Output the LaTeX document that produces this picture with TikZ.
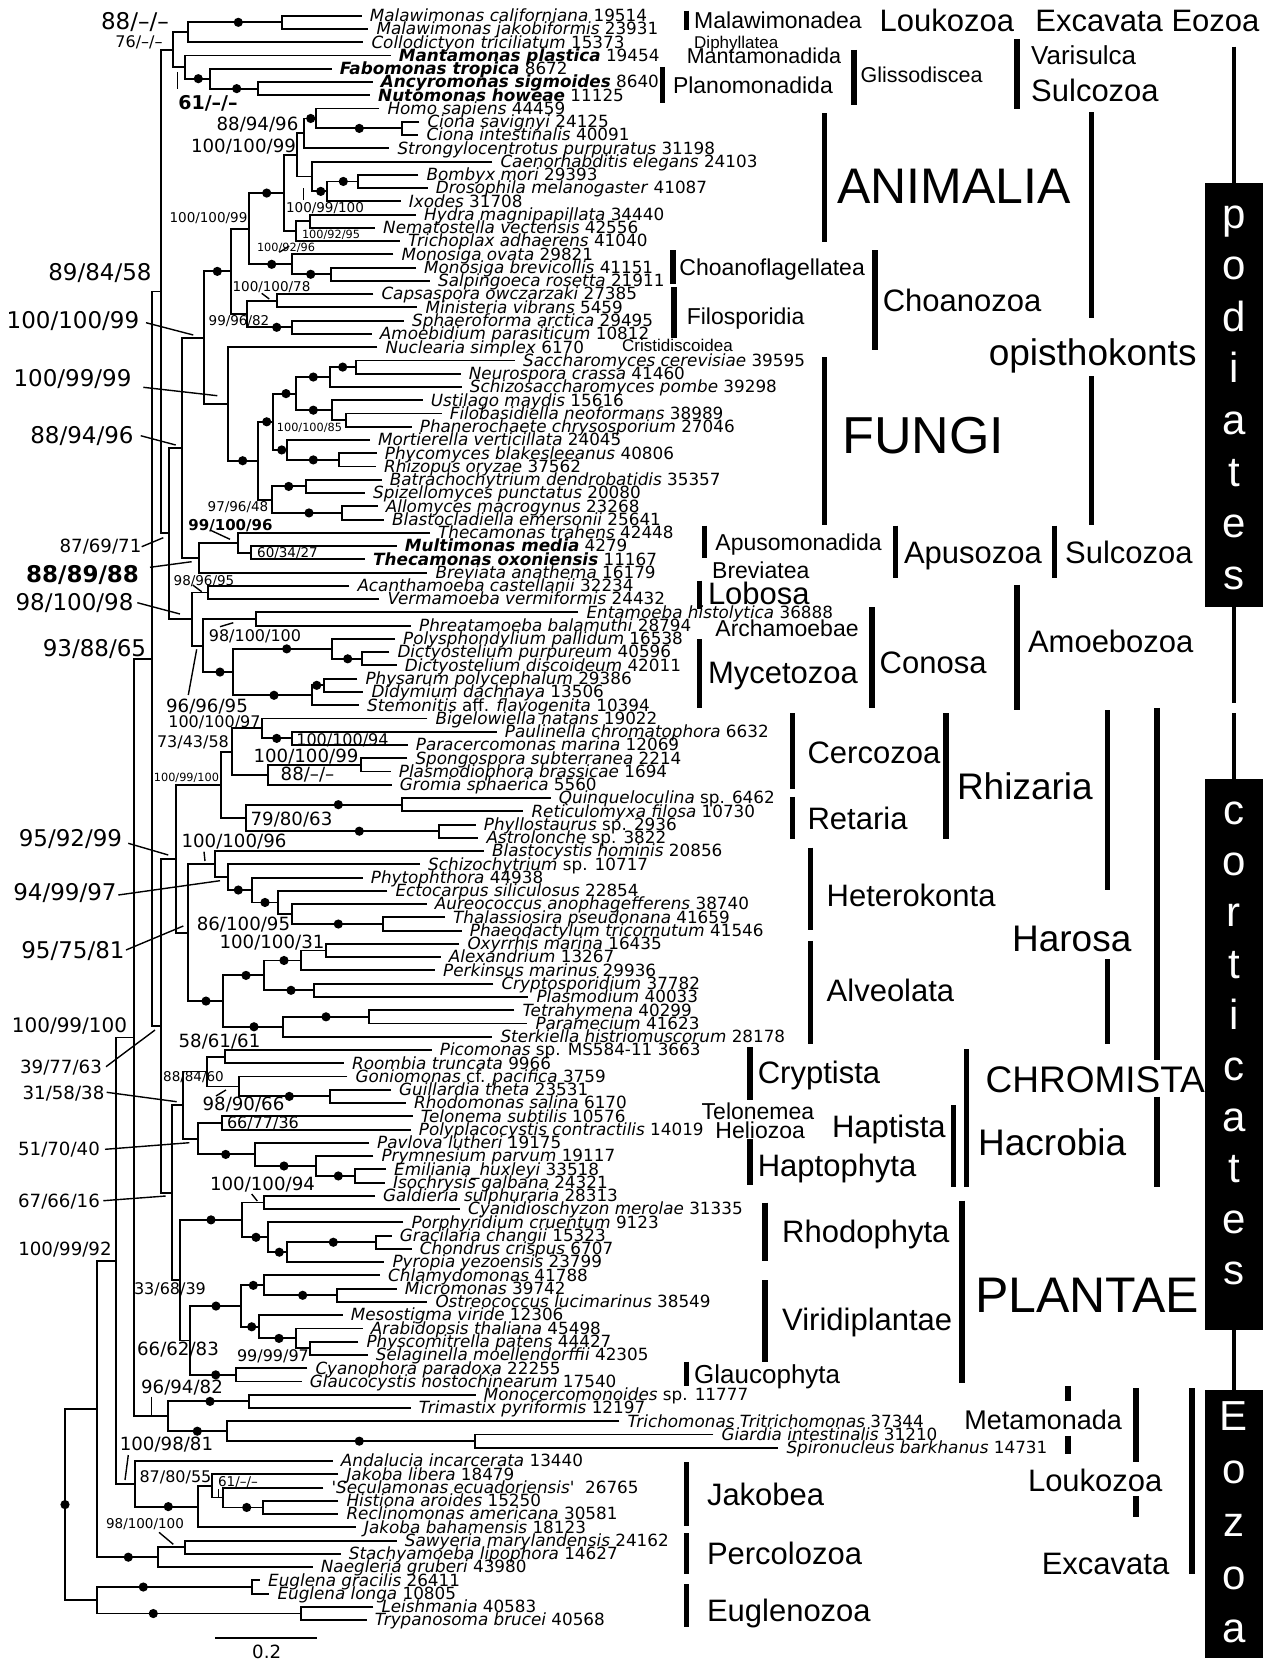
\documentclass[tikz,border=0pt]{standalone}
\usepackage{fontspec}
\newfontfamily\djv{DejaVu Sans}
\newfontfamily\libs{Liberation Sans}
\usetikzlibrary{calc}
\newcommand\spn[1]{\textit{#1}}
\newcommand\TTip[4]{\coordinate (#1) at (#3,{15.7+(#2-1)*13.26}); \node[tiplab] at ([shift={(8pt,-5.8pt)}]#1) {#4};}
\newcommand\NNd[4]{\coordinate (tmp) at ($(#3)!.5!(#4)$); \coordinate (#1) at (#2,0 |- tmp); \draw[br] (#3) -| (#1) |- (#4);}
\newcommand\DDt[2]{\fill (#2,0 |- #1) circle[radius=4.6pt];}
\newcommand\BSup[4]{\node[#3] at (#1,#2) {#4};}
\newcommand\AAnn[4]{\node[anchor=base west,inner sep=0] at (#1,{#2+0.36*#3}) {\libs\fontsize{#3}{#3}\selectfont #4};}
\newcommand\BBar[3]{\draw[cbar] (#1,#2) -- (#1,#3);}
\tikzset{
  br/.style={line width=1.9pt},
  ptr/.style={line width=1.4pt},
  cbar/.style={line width=5.5pt},
  col/.style={line width=4pt},
  tiplab/.style={anchor=base west,inner sep=0,font=\djv\fontsize{16.8}{17}\selectfont},
  sS/.style={inner sep=0,font=\djv\fontsize{11.3}{12}\selectfont},
  sT/.style={inner sep=0,font=\djv\fontsize{13.5}{14}\selectfont},
  sM/.style={inner sep=0,font=\djv\fontsize{16}{17}\selectfont},
  sMb/.style={inner sep=0,font=\djv\bfseries\fontsize{15}{16}\selectfont},
  sL/.style={inner sep=0,font=\djv\fontsize{18.2}{19}\selectfont},
  sLL/.style={inner sep=0,font=\djv\fontsize{20}{21}\selectfont},
  sLb/.style={inner sep=0,font=\djv\bfseries\fontsize{19}{20}\selectfont},
  sX/.style={inner sep=0,font=\djv\fontsize{23}{24}\selectfont},
  sXb/.style={inner sep=0,font=\djv\bfseries\fontsize{23}{24}\selectfont},
  boxl/.style={anchor=base,inner sep=0,text=white,font=\libs\fontsize{42}{42}\selectfont}
}
\begin{document}
\begin{tikzpicture}[x=1pt,y=-1pt]
\useasboundingbox (0,0) rectangle (1263,1662);
\fill[white] (0,0) rectangle (1263,1662);
% ---------- tips ----------
\TTip{t1}{1}{361.7}{\spn{Malawimonas californiana} 19514}
\TTip{t2}{2}{368.3}{\spn{Malawimonas jakobiformis} 23931}
\TTip{t3}{3}{363.3}{\spn{Collodictyon triciliatum} 15373}
\TTip{t4}{4}{390.7}{\textbf{\spn{Mantamonas plastica}} 19454}
\TTip{t5}{5}{331.7}{\textbf{\spn{Fabomonas tropica}} 8672}
\TTip{t6}{6}{372.7}{\textbf{\spn{Ancyromonas sigmoides}} 8640}
\TTip{t7}{7}{370}{\textbf{\spn{Nutomonas howeae}} 11125}
\TTip{t8}{8}{379.3}{\spn{Homo sapiens} 44459}
\TTip{t9}{9}{419.3}{\spn{Ciona savignyi} 24125}
\TTip{t10}{10}{418.3}{\spn{Ciona intestinalis} 40091}
\TTip{t11}{11}{389.3}{\spn{Strongylocentrotus purpuratus} 31198}
\TTip{t12}{12}{492.3}{\spn{Caenorhabditis elegans} 24103}
\TTip{t13}{13}{418.3}{\spn{Bombyx mori} 29393}
\TTip{t14}{14}{427.7}{\spn{Drosophila melanogaster} 41087}
\TTip{t15}{15}{400.7}{\spn{Ixodes} 31708}
\TTip{t16}{16}{416}{\spn{Hydra magnipapillata} 34440}
\TTip{t17}{17}{375}{\spn{Nematostella vectensis} 42556}
\TTip{t18}{18}{400}{\spn{Trichoplax adhaerens} 41040}
\TTip{t19}{19}{393.3}{\spn{Monosiga ovata} 29821}
\TTip{t20}{20}{416}{\spn{Monosiga brevicollis} 41151}
\TTip{t21}{21}{430}{\spn{Salpingoeca rosetta} 21911}
\TTip{t22}{22}{373.3}{\spn{Capsaspora owczarzaki} 27385}
\TTip{t23}{23}{417.3}{\spn{Ministeria vibrans} 5459}
\TTip{t24}{24}{404}{\spn{Sphaeroforma arctica} 29495}
\TTip{t25}{25}{371.7}{\spn{Amoebidium parasiticum} 10812}
\TTip{t26}{26}{377.3}{\spn{Nuclearia simplex} 6170}
\TTip{t27}{27}{515}{\spn{Saccharomyces cerevisiae} 39595}
\TTip{t28}{28}{460.7}{\spn{Neurospora crassa} 41460}
\TTip{t29}{29}{461.7}{\spn{Schizosaccharomyces pombe} 39298}
\TTip{t30}{30}{422.7}{\spn{Ustilago maydis} 15616}
\TTip{t31}{31}{441.7}{\spn{Filobasidiella neoformans} 38989}
\TTip{t32}{32}{411.7}{\spn{Phanerochaete chrysosporium} 27046}
\TTip{t33}{33}{370}{\spn{Mortierella verticillata} 24045}
\TTip{t34}{34}{376.7}{\spn{Phycomyces blakesleeanus} 40806}
\TTip{t35}{35}{376}{\spn{Rhizopus oryzae} 37562}
\TTip{t36}{36}{381.7}{\spn{Batrachochytrium dendrobatidis} 35357}
\TTip{t37}{37}{365}{\spn{Spizellomyces punctatus} 20080}
\TTip{t38}{38}{377.7}{\spn{Allomyces macrogynus} 23268}
\TTip{t39}{39}{384}{\spn{Blastocladiella emersonii} 25641}
\TTip{t40}{40}{430}{\spn{Thecamonas trahens} 42448}
\TTip{t41}{41}{396.7}{\textbf{\spn{Multimonas media}} 4279}
\TTip{t42}{42}{365}{\textbf{\spn{Thecamonas oxoniensis}} 11167}
\TTip{t43}{43}{427.3}{\spn{Breviata anathema} 16179}
\TTip{t44}{44}{349.3}{\spn{Acanthamoeba castellanii} 32234}
\TTip{t45}{45}{379.3}{\spn{Vermamoeba vermiformis} 24432}
\TTip{t46}{46}{578.3}{\spn{Entamoeba histolytica} 36888}
\TTip{t47}{47}{411}{\spn{Phreatamoeba balamuthi} 28794}
\TTip{t48}{48}{395}{\spn{Polysphondylium pallidum} 16538}
\TTip{t49}{49}{389.3}{\spn{Dictyostelium purpureum} 40596}
\TTip{t50}{50}{396.7}{\spn{Dictyostelium discoideum} 42011}
\TTip{t51}{51}{357.3}{\spn{Physarum polycephalum} 29386}
\TTip{t52}{52}{363.3}{\spn{Didymium dachnaya} 13506}
\TTip{t53}{53}{359}{\spn{Stemonitis} aff. \spn{flavogenita} 10394}
\TTip{t54}{54}{427.3}{\spn{Bigelowiella natans} 19022}
\TTip{t55}{55}{496.7}{\spn{Paulinella chromatophora} 6632}
\TTip{t56}{56}{407.7}{\spn{Paracercomonas marina} 12069}
\TTip{t57}{57}{407.3}{\spn{Spongospora subterranea} 2214}
\TTip{t58}{58}{390.7}{\spn{Plasmodiophora brassicae} 1694}
\TTip{t59}{59}{391.7}{\spn{Gromia sphaerica} 5560}
\TTip{t60}{60}{550.7}{\spn{Quinqueloculina} sp. 6462}
\TTip{t61}{61}{523.3}{\spn{Reticulomyxa filosa} 10730}
\TTip{t62}{62}{475.7}{\spn{Phyllostaurus} sp. 2936}
\TTip{t63}{63}{478.3}{\spn{Astrolonche} sp. 3822}
\TTip{t64}{64}{484}{\spn{Blastocystis hominis} 20856}
\TTip{t65}{65}{420}{\spn{Schizochytrium} sp. 10717}
\TTip{t66}{66}{362.7}{\spn{Phytophthora} 44938}
\TTip{t67}{67}{387.3}{\spn{Ectocarpus siliculosus} 22854}
\TTip{t68}{68}{426.7}{\spn{Aureococcus anophagefferens} 38740}
\TTip{t69}{69}{445}{\spn{Thalassiosira pseudonana} 41659}
\TTip{t70}{70}{461.7}{\spn{Phaeodactylum tricornutum} 41546}
\TTip{t71}{71}{459.3}{\spn{Oxyrrhis marina} 16435}
\TTip{t72}{72}{440.7}{\spn{Alexandrium} 13267}
\TTip{t73}{73}{435}{\spn{Perkinsus marinus} 29936}
\TTip{t74}{74}{493.3}{\spn{Cryptosporidium} 37782}
\TTip{t75}{75}{528.3}{\spn{Plasmodium} 40033}
\TTip{t76}{76}{514.3}{\spn{Tetrahymena} 40299}
\TTip{t77}{77}{527.3}{\spn{Paramecium} 41623}
\TTip{t78}{78}{492.3}{\spn{Sterkiella histriomuscorum} 28178}
\TTip{t79}{79}{431.7}{\spn{Picomonas} sp. MS584-11 3663}
\TTip{t80}{80}{344}{\spn{Roombia truncata} 9966}
\TTip{t81}{81}{347.3}{\spn{Goniomonas} cf. \spn{pacifica} 3759}
\TTip{t82}{82}{391}{\spn{Guillardia theta} 23531}
\TTip{t83}{83}{406}{\spn{Rhodomonas salina} 6170}
\TTip{t84}{84}{412.7}{\spn{Telonema subtilis} 10576}
\TTip{t85}{85}{410.7}{\spn{Polyplacocystis contractilis} 14019}
\TTip{t86}{86}{369}{\spn{Pavlova lutheri} 19175}
\TTip{t87}{87}{373.3}{\spn{Prymnesium parvum} 19117}
\TTip{t88}{88}{386}{\spn{Emiliania\_huxleyi} 33518}
\TTip{t89}{89}{385}{\spn{Isochrysis galbana} 24321}
\TTip{t90}{90}{375}{\spn{Galdieria sulphuraria} 28313}
\TTip{t91}{91}{460}{\spn{Cyanidioschyzon merolae} 31335}
\TTip{t92}{92}{403.3}{\spn{Porphyridium cruentum} 9123}
\TTip{t93}{93}{391.7}{\spn{Gracilaria changii} 15323}
\TTip{t94}{94}{411.7}{\spn{Chondrus crispus} 6707}
\TTip{t95}{95}{384.3}{\spn{Pyropia yezoensis} 23799}
\TTip{t96}{96}{380}{\spn{Chlamydomonas} 41788}
\TTip{t97}{97}{396.7}{\spn{Micromonas} 39742}
\TTip{t98}{98}{427.3}{\spn{Ostreococcus lucimarinus} 38549}
\TTip{t99}{99}{342.7}{\spn{Mesostigma viride} 12306}
\TTip{t100}{100}{362.7}{\spn{Arabidopsis thaliana} 45498}
\TTip{t101}{101}{358.3}{\spn{Physcomitrella patens} 44427}
\TTip{t102}{102}{367.7}{\spn{Selaginella moellendorffii} 42305}
\TTip{t103}{103}{307.3}{\spn{Cyanophora paradoxa} 22255}
\TTip{t104}{104}{301.7}{\spn{Glaucocystis nostochinearum} 17540}
\TTip{t105}{105}{475.7}{\spn{Monocercomonoides} sp. 11777}
\TTip{t106}{106}{410.7}{\spn{Trimastix pyriformis} 12197}
\TTip{t107}{107}{619.3}{\spn{Trichomonas Tritrichomonas} 37344}
\TTip{t108}{108}{713.3}{\spn{Giardia intestinalis} 31210}
\TTip{t109}{109}{778.3}{\spn{Spironucleus barkhanus} 14731}
\TTip{t110}{110}{332.7}{\spn{Andalucia incarcerata} 13440}
\TTip{t111}{111}{338.3}{\spn{Jakoba libera} 18479}
\TTip{t112}{112}{323.3}{\spn{\textquotesingle Seculamonas ecuadoriensis\textquotesingle}\ \ 26765}
\TTip{t113}{113}{338.3}{\spn{Histiona aroides} 15250}
\TTip{t114}{114}{338.3}{\spn{Reclinomonas americana} 30581}
\TTip{t115}{115}{356}{\spn{Jakoba bahamensis} 18123}
\TTip{t116}{116}{396.7}{\spn{Sawyeria marylandensis} 24162}
\TTip{t117}{117}{340.7}{\spn{Stachyamoeba lipophora} 14627}
\TTip{t118}{118}{312.7}{\spn{Naegleria gruberi} 43980}
\TTip{t119}{119}{260}{\spn{Euglena gracilis} 26411}
\TTip{t120}{120}{269.3}{\spn{Euglena longa} 10805}
\TTip{t121}{121}{373.3}{\spn{Leishmania} 40583}
\TTip{t122}{122}{366.7}{\spn{Trypanosoma brucei} 40568}
% ---------- internal nodes ----------
\NNd{nmal}{281.7}{t1}{t2} \DDt{nmal}{238.3}
\NNd{nA}{187.7}{nmal}{t3}
\NNd{nant}{257.7}{t6}{t7} \DDt{nant}{236.7}
\NNd{nplano}{210}{t5}{nant} \DDt{nplano}{198.3}
\NNd{nB}{185}{t4}{nplano}
\NNd{nAB}{172.7}{nA}{nB}
% animals
\NNd{ncio}{401.7}{t9}{t10} \DDt{ncio}{359.3}
\NNd{nhc}{316}{t8}{ncio} \DDt{nhc}{310.7}
\NNd{ndeut}{304}{nhc}{t11}
\NNd{nbd}{357.7}{t13}{t14} \DDt{nbd}{343.3}
\NNd{narth}{326.7}{nbd}{t15} \DDt{narth}{320.7}
\NNd{nprot}{311.7}{t12}{narth}
\NNd{nbil}{296.7}{ndeut}{nprot}
\NNd{ncni}{310}{t16}{t17}
\NNd{nnt}{296}{ncni}{t18}
\NNd{nK}{284}{nbil}{nnt} \DDt{nK}{266.7}
\NNd{nmsal}{331}{t20}{t21} \DDt{nmsal}{310.7}
\NNd{nL}{291.7}{t19}{nmsal} \DDt{nL}{271.7}
\NNd{nI}{249.3}{nK}{nL}
\NNd{ncm}{276.7}{t22}{t23}
\NNd{nsa}{292}{t24}{t25} \DDt{nsa}{276.7}
\NNd{nJ}{247.3}{ncm}{nsa}
\NNd{nH}{231}{nI}{nJ} \DDt{nH}{217.3}
% fungi
\NNd{nsn}{356}{t27}{t28} \DDt{nsn}{342.7}
\NNd{nasco}{330}{nsn}{t29} \DDt{nasco}{313.3}
\NNd{nfp}{345.7}{t31}{t32}
\NNd{nbasi}{331.7}{t30}{nfp} \DDt{nbasi}{313.3}
\NNd{nS}{295.7}{nasco}{nbasi} \DDt{nS}{286}
\NNd{npr}{339.3}{t34}{t35} \DDt{npr}{313.3}
\NNd{nT}{287.3}{t33}{npr} \DDt{nT}{281.7}
\NNd{nQ}{273.3}{nS}{nT} \DDt{nQ}{266.7}
\NNd{nchy}{305.7}{t36}{t37} \DDt{nchy}{288.7}
\NNd{nbla}{341.7}{t38}{t39} \DDt{nbla}{309}
\NNd{nR}{272.3}{nchy}{nbla}
\NNd{nP}{258.3}{nQ}{nR} \DDt{nP}{242.7}
\NNd{nO}{228.3}{t26}{nP}
\NNd{nF}{204.3}{nH}{nO}
% apusozoa
\NNd{nmt}{250.7}{t41}{t42}
\NNd{nU}{237.7}{t40}{nmt}
\NNd{nG}{199.3}{nU}{t43}
\NNd{nE}{181.7}{nF}{nG}
% amoebozoa
\NNd{ndisc}{208.3}{t44}{t45}
\NNd{narch}{256}{t46}{t47}
\NNd{ndpair}{362.3}{t49}{t50} \DDt{ndpair}{347.7}
\NNd{ndict}{331.7}{t48}{ndpair} \DDt{ndict}{286.7}
\NNd{npd}{324}{t51}{t52} \DDt{npd}{316.7}
\NNd{nmyx}{311.7}{npd}{t53} \DDt{nmyx}{274}
\NNd{nX}{233.3}{ndict}{nmyx} \DDt{nX}{220}
\NNd{nW}{203.3}{narch}{nX}
\NNd{nV}{191.7}{ndisc}{nW}
\NNd{nD}{169.3}{nE}{nV}
\NNd{nC}{161}{nAB}{nD}
% SAR
\NNd{npp}{291.7}{t55}{t56} \DDt{npp}{276.7}
\NNd{nbpp}{261.7}{t54}{npp}
\NNd{nsp}{361}{t57}{t58}
\NNd{nendo}{267.7}{nsp}{t59}
\NNd{nDD}{232.3}{nbpp}{nendo}
\NNd{nfor}{401.7}{t60}{t61} \DDt{nfor}{338.3}
\NNd{nrad}{439.3}{t62}{t63} \DDt{nrad}{359.3}
\NNd{nEE}{245.7}{nfor}{nrad}
\NNd{nCC}{220.7}{nDD}{nEE}
\NNd{ndia}{382.7}{t69}{t70} \DDt{ndia}{338.3}
\NNd{nKK}{292.3}{t68}{ndia}
\NNd{nJJ}{278.3}{t67}{nKK} \DDt{nJJ}{265}
\NNd{nII}{251.7}{t66}{nJJ} \DDt{nII}{238.3}
\NNd{nHH}{227.7}{t65}{nII}
\NNd{nFF}{215}{t64}{nHH}
\NNd{noa}{325.7}{t71}{t72}
\NNd{nNN}{300.7}{noa}{t73} \DDt{nNN}{284}
\NNd{nOO}{314}{t74}{t75} \DDt{nOO}{291}
\NNd{nLL}{264.3}{nNN}{nOO} \DDt{nLL}{246}
\NNd{ntp}{369.3}{t76}{t77} \DDt{ntp}{326}
\NNd{nMM}{283.3}{ntp}{t78} \DDt{nMM}{254}
\NNd{nGG}{223.3}{nLL}{nMM} \DDt{nGG}{206}
\NNd{nSA}{187.7}{nFF}{nGG}
\NNd{nBB}{176}{nCC}{nSA}
% hacrobia
\NNd{npr2}{225}{t79}{t80}
\NNd{ngr}{330}{t82}{t83} \DDt{ngr}{289.3}
\NNd{nUU}{239.3}{t81}{ngr}
\NNd{nSS}{206.7}{npr2}{nUU}
\NNd{ntel}{221.7}{t84}{t85}
\NNd{nei}{355}{t88}{t89} \DDt{nei}{338.3}
\NNd{nprym}{316}{t87}{nei} \DDt{nprym}{284}
\NNd{nVV}{255}{t86}{nprym} \DDt{nVV}{225.7}
\NNd{nTT}{197.7}{ntel}{nVV}
\NNd{nRR}{183.3}{nSS}{nTT}
% archaeplastida
\NNd{ngc}{264.3}{t90}{t91}
\NNd{ngch}{375.7}{t93}{t94} \DDt{ngch}{333.3}
\NNd{nflo}{287.3}{ngch}{t95} \DDt{nflo}{279.3}
\NNd{nZZ}{268.3}{t92}{nflo} \DDt{nZZ}{256}
\NNd{nXX}{242.3}{ngc}{nZZ} \DDt{nXX}{211}
\NNd{nmo}{336.7}{t97}{t98} \DDt{nmo}{302.7}
\NNd{nchl}{264.3}{t96}{nmo} \DDt{nchl}{253.3}
\NNd{nps}{310}{t101}{t102}
\NNd{nland}{295.7}{t100}{nps} \DDt{nland}{279}
\NNd{nstr}{259.3}{t99}{nland} \DDt{nstr}{251.7}
\NNd{nAAA}{241}{nchl}{nstr} \DDt{nAAA}{216}
\NNd{nBBB}{235.7}{t103}{t104} \DDt{nBBB}{215.7}
\NNd{nYY}{190}{nAAA}{nBBB}
\NNd{nWW}{180}{nXX}{nYY}
\NNd{nPP}{172.3}{nRR}{nWW}
\NNd{nAA}{161}{nBB}{nPP}
\NNd{nZ}{151.7}{nC}{nAA}
% metamonads
\NNd{npre}{249.3}{t105}{t106} \DDt{npre}{210}
\NNd{ngs}{475}{t108}{t109} \DDt{ngs}{359.3}
\NNd{nfp2}{226.7}{t107}{ngs} \DDt{nfp2}{197.3}
\NNd{nCCC}{167.7}{npre}{nfp2}
\NNd{nY}{134.3}{nZ}{nCCC}
% jakobids
\NNd{nhr}{263.3}{t113}{t114} \DDt{nhr}{246.7}
\NNd{nGGG}{223.3}{t112}{nhr}
\NNd{nFFF}{212.3}{t111}{nGGG}
\NNd{nEEE}{198.3}{nFFF}{t115} \DDt{nEEE}{168.3}
\NNd{nDDD}{135}{t110}{nEEE}
\NNd{nQQ}{116}{nY}{nDDD}
% heterolobosea, euglenozoa, root
\NNd{nss}{185}{t116}{t117}
\NNd{nHHH}{158.3}{nss}{t118} \DDt{nHHH}{128.3}
\NNd{nS1}{96.7}{nQQ}{nHHH}
\NNd{neug}{251.7}{t119}{t120} \DDt{neug}{143.3}
\NNd{ntryp}{301}{t121}{t122} \DDt{ntryp}{153.3}
\NNd{nS2}{96.7}{neug}{ntryp}
\NNd{root}{65}{nS1}{nS2}
\fill (root) circle[radius=4.6pt];
% ---------- support values ----------
\BSup{135}{21.7}{sX}{88/–/–}
\BSup{139}{42.3}{sM}{76/–/–}
\BSup{208}{103.3}{sLb}{61/–/–}
\BSup{257.5}{125}{sL}{88/94/96}
\BSup{243.5}{146.7}{sL}{100/100/99}
\BSup{325}{208}{sT}{100/99/100}
\BSup{208.5}{218.3}{sT}{100/100/99}
\BSup{331}{234.5}{sS}{100/92/95}
\BSup{286}{248.3}{sS}{100/92/96}
\BSup{100}{273.3}{sX}{89/84/58}
\BSup{271.5}{287}{sT}{100/100/78}
\BSup{73}{320.7}{sX}{100/100/99}
\BSup{239}{320.7}{sT}{99/96/82}
\BSup{72.5}{379.3}{sX}{100/99/99}
\BSup{309.5}{428}{sS}{100/100/85}
\BSup{82}{436}{sX}{88/94/96}
\BSup{238}{506.7}{sT}{97/96/48}
\BSup{230.5}{525.7}{sMb}{99/100/96}
\BSup{100.5}{546.7}{sL}{87/69/71}
\BSup{287.5}{553.3}{sT}{60/34/27}
\BSup{82.5}{575}{sXb}{88/89/88}
\BSup{204}{580.7}{sT}{98/96/95}
\BSup{74.5}{603.3}{sX}{98/100/98}
\BSup{255}{636}{sM}{98/100/100}
\BSup{94.5}{649.3}{sX}{93/88/65}
\BSup{207}{706.7}{sL}{96/96/95}
\BSup{214.5}{722.3}{sM}{100/100/97}
\BSup{193}{742.7}{sM}{73/43/58}
\BSup{342.5}{740}{sM}{100/100/94}
\BSup{306}{756.7}{sL}{100/100/99}
\BSup{307.5}{775}{sL}{88/–/–}
\BSup{186.5}{778}{sS}{100/99/100}
\BSup{291.5}{819.3}{sL}{79/80/63}
\BSup{70.5}{839.3}{sX}{95/92/99}
\BSup{234}{841.7}{sL}{100/100/96}
\BSup{65}{893.3}{sX}{94/99/97}
\BSup{243.5}{924.3}{sL}{86/100/95}
\BSup{272}{942.7}{sL}{100/100/31}
\BSup{73}{951}{sX}{95/75/81}
\BSup{69.5}{1026}{sLL}{100/99/100}
\BSup{219.5}{1041.7}{sL}{58/61/61}
\BSup{61}{1067.7}{sL}{39/77/63}
\BSup{193.5}{1077.3}{sT}{88/84/60}
\BSup{63.5}{1093.3}{sL}{31/58/38}
\BSup{243.5}{1105}{sL}{98/90/66}
\BSup{263}{1123.3}{sM}{66/77/36}
\BSup{59}{1149.3}{sL}{51/70/40}
\BSup{262.5}{1185}{sL}{100/100/94}
\BSup{59}{1201.7}{sL}{67/66/16}
\BSup{65}{1250}{sL}{100/99/92}
\BSup{170}{1289.3}{sM}{33/68/39}
\BSup{178}{1349.3}{sL}{66/62/83}
\BSup{273}{1356.7}{sM}{99/99/97}
\BSup{182}{1387.7}{sL}{96/94/82}
\BSup{166.5}{1445}{sL}{100/98/81}
\BSup{175.5}{1477.3}{sM}{87/80/55}
\BSup{238}{1481.7}{sT}{61/–/–}
\BSup{145}{1524.3}{sT}{98/100/100}
% pointers and ticks
\draw[ptr] (146,322.7) -- (193.3,335);
\draw[ptr] (143.3,387.3) -- (217.3,395.7);
\draw[ptr] (140.7,435.7) -- (175.7,445);
\draw[ptr] (141.7,546.7) -- (163.3,537.7);
\draw[ptr] (150,567.3) -- (191.7,561.7);
\draw[ptr] (137.3,602.7) -- (180,614);
\draw[ptr] (188.3,695) -- (196.7,649.3);
\draw[ptr] (128.3,843.3) -- (168.3,855);
\draw[ptr] (118.3,895) -- (220,880.7);
\draw[ptr] (126,950) -- (183.3,926);
\draw[ptr] (106,1066.7) -- (155,1030);
\draw[ptr] (106.7,1092.3) -- (176.7,1101.7);
\draw[ptr] (105,1149.3) -- (189.3,1142.7);
\draw[ptr] (103.3,1200.7) -- (165.7,1196);
\draw[ptr] (177.7,72) -- (177.7,89);
\draw[ptr] (303.3,188) -- (303.3,200);
\draw[ptr] (279.3,252.3) -- (289.3,246);
\draw[ptr] (261.7,293.3) -- (269.3,299);
\draw[ptr] (210,530) -- (230,539.3);
\draw[ptr] (192.7,585) -- (201.7,591.7);
\draw[ptr] (220,626.7) -- (233.3,622.7);
\draw[ptr] (204,851.7) -- (205,861);
\draw[ptr] (216,1096) -- (226,1090);
\draw[ptr] (251.7,1194) -- (257.3,1201);
\draw[ptr] (151.7,1396.7) -- (151.7,1415);
\draw[ptr] (128.3,1455) -- (125,1480);
\draw[ptr] (218.3,1489) -- (218.3,1497);
\draw[ptr] (159,1532.3) -- (173.3,1544.3);
% scale bar
\coordinate (sb1) at (215,1637.7);
\coordinate (sb2) at (316.7,1637.7);
\draw[br] (sb1) -- (sb2);
\node[sL] at (266.7,1651.7) {0.2};
% ---------- clade annotations ----------
\BBar{686.6}{10.6}{29.7}
\AAnn{694}{20.1}{23}{Malawimonadea}
\AAnn{879.5}{20.1}{31}{Loukozoa}
\AAnn{1035.2}{20.1}{31}{Excavata Eozoa}
\AAnn{694}{42.4}{17}{Diphyllatea}
\AAnn{686.6}{56.2}{21.5}{Mantamonadida}
\BBar{662.3}{66.8}{102.8}
\AAnn{672.8}{84.8}{23}{Planomonadida}
\BBar{854}{49.8}{104.9}
\AAnn{860.4}{75.2}{21.5}{Glissodiscea}
\BBar{1017.2}{39.2}{109.1}
\AAnn{1031}{55.1}{26}{Varisulca}
\AAnn{1031}{90.1}{31}{Sulcozoa}
\BBar{824.4}{113.4}{241.6}
\AAnn{837}{185.4}{50}{ANIMALIA}
\BBar{672.8}{250}{284}
\AAnn{679.2}{267}{23}{Choanoflagellatea}
\BBar{673.9}{287.2}{338}
\AAnn{686.6}{315.8}{23}{Filosporidia}
\BBar{875.2}{250}{349.7}
\AAnn{882.6}{299.9}{31}{Choanozoa}
\AAnn{622}{345.4}{17}{Cristidiscoidea}
\BBar{1091.4}{112.3}{317.9}
\BBar{1091.4}{376.2}{524.5}
\AAnn{988.6}{351.8}{37}{opisthokonts}
\BBar{824.4}{357}{524.5}
\AAnn{842.4}{434.4}{52}{FUNGI}
\BBar{704.6}{525.6}{558.4}
\AAnn{715.2}{542.5}{23}{Apusomonadida}
\BBar{895.4}{525.6}{577.5}
\AAnn{903.8}{552}{31}{Apusozoa}
\BBar{1054.3}{525.6}{577.5}
\AAnn{1064.9}{552}{31}{Sulcozoa}
\AAnn{712}{570}{23}{Breviatea}
\BBar{699.3}{580.7}{609.3}
\AAnn{707.8}{593.4}{31}{Lobosa}
\AAnn{715.2}{628.3}{23}{Archamoebae}
\BBar{699.3}{639}{707.8}
\AAnn{707.8}{672.8}{31}{Mycetozoa}
\BBar{872}{607.2}{707.8}
\AAnn{879.5}{662.3}{31}{Conosa}
\BBar{1017.2}{584.9}{710}
\AAnn{1027.8}{641}{31}{Amoebozoa}
\BBar{792.6}{713.1}{789.4}
\AAnn{807.4}{752.3}{31}{Cercozoa}
\BBar{792.6}{796.8}{839.2}
\AAnn{807.4}{818}{31}{Retaria}
\BBar{946.2}{713.1}{839.2}
\AAnn{956.8}{786.2}{37}{Rhizaria}
\BBar{810.6}{847.7}{930.3}
\AAnn{826.5}{895.4}{31}{Heterokonta}
\BBar{810.6}{940.9}{1043.7}
\AAnn{826.5}{990.7}{31}{Alveolata}
\BBar{1107.3}{710}{890}
\BBar{1107.3}{959}{1043.7}
\AAnn{1011.9}{937.7}{37}{Harosa}
\BBar{1157.1}{707.8}{1059.6}
\BBar{1157.1}{1096.7}{1186.8}
\AAnn{985.4}{1078.7}{37}{CHROMISTA}
\BBar{750.2}{1046.9}{1099.9}
\AAnn{757.6}{1072.3}{31}{Cryptista}
\AAnn{701.5}{1111.6}{23}{Telonemea}
\AAnn{715.2}{1130.5}{23}{Heliozoa}
\BBar{750.2}{1139.1}{1184.6}
\AAnn{757.6}{1165.6}{31}{Haptophyta}
\BBar{953.6}{1105.2}{1186.8}
\AAnn{831.8}{1126.3}{31}{Haptista}
\BBar{966.4}{1049}{1186.8}
\AAnn{978}{1142.3}{37}{Hacrobia}
\BBar{765}{1202.6}{1260.9}
\AAnn{782}{1231.2}{31}{Rhodophyta}
\BBar{765}{1280}{1361.6}
\AAnn{782}{1319.2}{31}{Viridiplantae}
\BBar{962.1}{1200.5}{1382.8}
\AAnn{974.8}{1294.8}{50}{PLANTAE}
\BBar{686.6}{1361.6}{1386}
\AAnn{694}{1374.3}{26}{Glaucophyta}
\BBar{1068.1}{1386}{1400.8}
\BBar{1068.1}{1435.8}{1453.8}
\AAnn{964.2}{1419.9}{27}{Metamonada}
\BBar{1135.9}{1388}{1462.2}
\BBar{1135.9}{1496.2}{1517.3}
\AAnn{1027.8}{1480.3}{31}{Loukozoa}
\BBar{1192}{1388}{1573.5}
\AAnn{1041.6}{1562.9}{31}{Excavata}
\BBar{686.6}{1462.2}{1525.8}
\AAnn{706.8}{1494.2}{31}{Jakobea}
\BBar{686.6}{1533.2}{1573.5}
\AAnn{706.8}{1553.4}{31}{Percolozoa}
\BBar{686.6}{1584.1}{1626.5}
\AAnn{706.8}{1610.6}{31}{Euglenozoa}
% ---------- right column ----------
\draw[col] (1233.9,46.6) -- (1233.9,183.3);
\fill (1204.8,183.3) rectangle (1263,607.2);
\draw[col] (1233.9,607.2) -- (1233.9,702.5);
\draw[col] (1233.9,713.1) -- (1233.9,778.8);
\fill (1204.8,778.8) rectangle (1263,1329.8);
\draw[col] (1233.9,1329.8) -- (1233.9,1390.2);
\fill (1204.8,1390.2) rectangle (1263,1658.3);
\foreach \l [count=\k from 0] in {p,o,d,i,a,t,e,s}
  \node[boxl] at (1233.9,{217.2+\k*51.6+0.26*42}) {\l};
\foreach \l [count=\k from 0] in {c,o,r,t,i,c,a,t,e,s}
  \node[boxl] at (1233.9,{813.8+\k*51.1+0.26*42}) {\l};
\foreach \l [count=\k from 0] in {E,o,z,o,a}
  \node[boxl] at (1233.9,{1419.9+\k*53+0.26*42}) {\l};
\end{tikzpicture}
\end{document}
